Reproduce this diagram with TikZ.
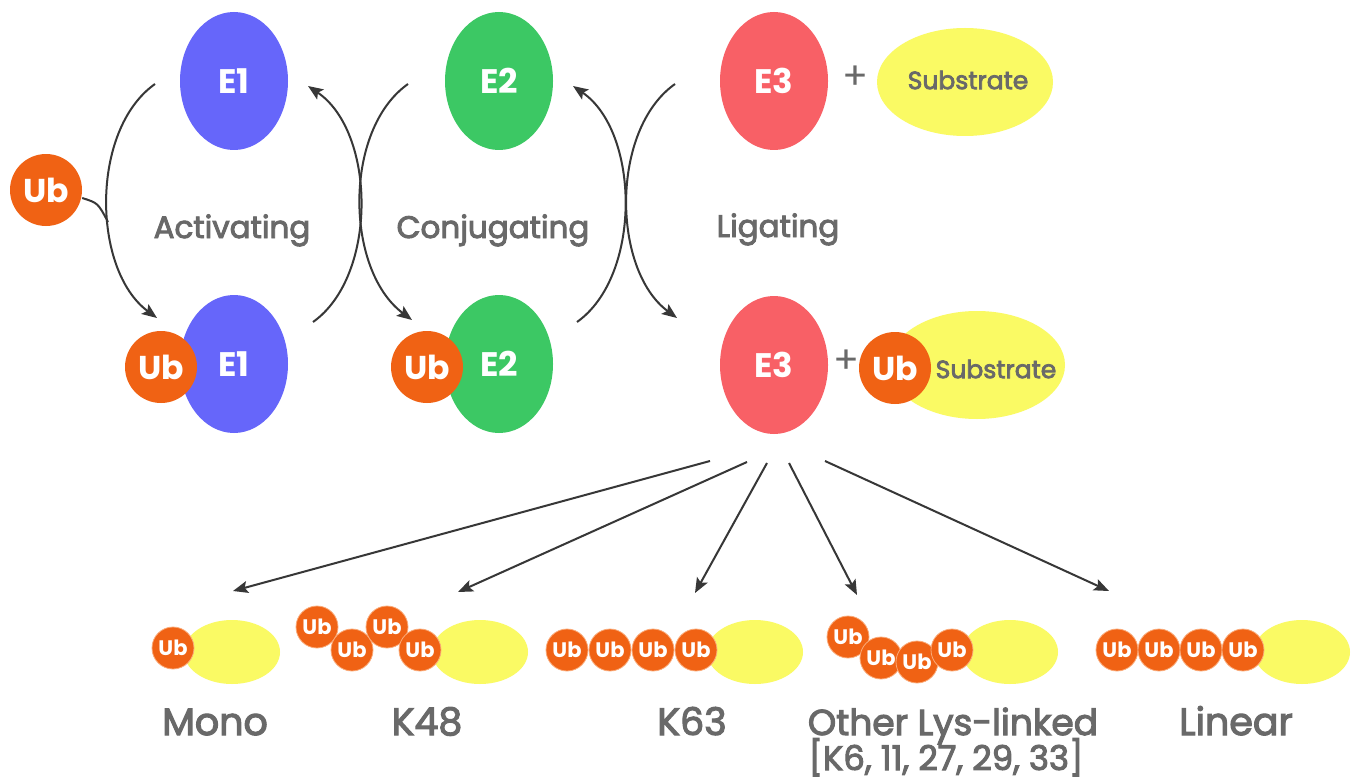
\documentclass[tikz,border=0pt]{standalone}
\usepackage{fontspec}
\setmainfont{Poppins}
\newfontfamily\labelfont{Poppins}[FakeBold=3]
\usetikzlibrary{shapes.geometric,arrows.meta}

\definecolor{eone}{RGB}{102,102,250}
\definecolor{etwo}{RGB}{60,200,100}
\definecolor{ethree}{RGB}{248,96,102}
\definecolor{subst}{RGB}{250,250,100}
\definecolor{ubcol}{RGB}{240,98,20}
\definecolor{ubedge}{RGB}{250,170,120}
\definecolor{txtgray}{RGB}{105,105,105}
\definecolor{arrowgray}{RGB}{55,55,55}

\tikzset{
  enzyme/.style={ellipse, minimum width=108pt, minimum height=138pt, inner sep=0pt,
    text=white, font=\fontsize{34}{36}\selectfont\bfseries},
  ubbig/.style={circle, fill=ubcol, minimum size=72pt, inner sep=0pt,
    text=white, font=\fontsize{33}{35}\selectfont\bfseries},
  ubsmall/.style={circle, fill=ubcol, draw=ubedge, line width=0.8pt, minimum size=42pt,
    inner sep=0pt, text=white, font=\fontsize{21}{22}\selectfont\bfseries},
  substrate/.style={ellipse, fill=subst, minimum width=176pt, minimum height=108pt, inner sep=0pt},
  tail/.style={ellipse, fill=subst, minimum width=96pt, minimum height=64pt, inner sep=0pt},
  subtext/.style={text=txtgray, font=\labelfont\fontsize{25}{27}\selectfont},
  plussign/.style={text=txtgray, font=\fontsize{38}{40}\selectfont},
  steplabel/.style={anchor=base, text=txtgray, font=\labelfont\fontsize{31}{33}\selectfont},
  kind/.style={anchor=base, text=txtgray, font=\labelfont\fontsize{38}{40}\selectfont},
  flow/.style={draw=arrowgray, line width=2pt,
    -{Stealth[length=15pt,width=12pt,inset=3pt]}},
  feed/.style={draw=arrowgray, line width=2pt},
}

\begin{document}
\begin{tikzpicture}[x=1pt,y=-1pt]
\path[use as bounding box, fill=white] (0,0) rectangle (1357,781);

% ---- enzymes, free state
\node[enzyme, fill=eone] (e1a) at (234,81) {E1};
\node[enzyme, fill=etwo] (e2a) at (499,81) {E2};
\node[enzyme, fill=ethree] (e3a) at (774,81) {E3};
\node[plussign] (plusa) at (855,78) {+};
\node[substrate] (sa) at (965,82) {};
\node[subtext] (sat) at (968,80) {Substrate};

% ---- free ubiquitin
\node[ubbig] (ub0) at (46,190) {Ub};

% ---- charged enzymes
\node[enzyme, fill=eone] (e1b) at (234,364) {E1};
\node[ubbig] (ub1) at (161,367) {Ub};
\node[enzyme, fill=etwo] (e2b) at (499,364) {E2};
\node[ubbig] (ub2) at (427,367) {Ub};
\node[enzyme, fill=ethree] (e3b) at (774,365) {E3};
\node[plussign] (plusb) at (846,362) {+};
\node[substrate] (sb) at (977,365) {};
\node[ubbig] (ub3) at (895,368) {Ub};
\node[subtext] (sbt) at (996,369) {Substrate};

% ---- step labels
\node[steplabel] (lact) at (232,238) {Activating};
\node[steplabel] (lcon) at (493,238) {Conjugating};
\node[steplabel] (llig) at (778,237) {Ligating};

% ---- cycle arcs
\coordinate (a1s) at (155,84);  \coordinate (a1e) at (157,318);
\coordinate (a2s) at (313,322); \coordinate (a2e) at (308,86);
\coordinate (b1s) at (408,84);  \coordinate (b1e) at (412,320);
\coordinate (b2s) at (577,322); \coordinate (b2e) at (573,86);
\coordinate (c1s) at (675,84);  \coordinate (c1e) at (677,318);
\coordinate (join) at (108,222);

\draw[flow] (a1s) .. controls (90,130) and (92,270) .. (a1e);
\draw[feed] (ub0.east) ++(0,8) .. controls (98,203) .. (join);
\draw[flow] (a2s) .. controls (378,276) and (376,132) .. (a2e);
\draw[flow] (b1s) .. controls (343,130) and (345,270) .. (b1e);
\draw[flow] (b2s) .. controls (642,276) and (640,132) .. (b2e);
\draw[flow] (c1s) .. controls (610,130) and (612,270) .. (c1e);

% ---- chain types
% mono
\node[tail] (tmono) at (232,652) {};
\node[ubsmall] (m1) at (173,648) {Ub};
% K48
\node[tail] (tk48) at (480,652) {};
\node[ubsmall] (k1) at (317,627) {Ub};
\node[ubsmall] (k2) at (352,650) {Ub};
\node[ubsmall] (k3) at (387,627) {Ub};
\node[ubsmall] (k4) at (420,650) {Ub};
% K63
\node[tail] (tk63) at (755,652) {};
\node[ubsmall] (s1) at (567,650) {Ub};
\node[ubsmall] (s2) at (610,650) {Ub};
\node[ubsmall] (s3) at (653,650) {Ub};
\node[ubsmall] (s4) at (696,650) {Ub};
% other lysine linkages
\node[tail] (toth) at (1010,652) {};
\node[ubsmall] (o1) at (848,637) {Ub};
\node[ubsmall] (o2) at (881,658) {Ub};
\node[ubsmall] (o3) at (917,662) {Ub};
\node[ubsmall] (o4) at (952,650) {Ub};
% linear
\node[tail] (tlin) at (1302,652) {};
\node[ubsmall] (l1) at (1117,650) {Ub};
\node[ubsmall] (l2) at (1159,650) {Ub};
\node[ubsmall] (l3) at (1201,650) {Ub};
\node[ubsmall] (l4) at (1243,650) {Ub};

% ---- chain labels
\node[kind] (nmono) at (215,735) {Mono};
\node[kind] (nk48) at (427,735) {K48};
\node[kind] (nk63) at (692,735) {K63};
\node[kind, font=\labelfont\fontsize{36}{38}\selectfont] (noth) at (953,735) {Other Lys-linked};
\node[kind, font=\labelfont\fontsize{34}{36}\selectfont] (nsites) at (946,770) {[K6, 11, 27, 29, 33]};
\node[kind] (nlin) at (1236,735) {Linear};

% ---- branching from the ligase
\coordinate (f1) at (710,461); \coordinate (g1) at (233,591);
\coordinate (f2) at (747,462); \coordinate (g2) at (458,592);
\coordinate (f3) at (767,463); \coordinate (g3) at (695,593);
\coordinate (f4) at (789,463); \coordinate (g4) at (857,595);
\coordinate (f5) at (825,461); \coordinate (g5) at (1109,591);
\foreach \i in {1,...,5} \draw[flow] (f\i) -- (g\i);
\end{tikzpicture}
\end{document}
